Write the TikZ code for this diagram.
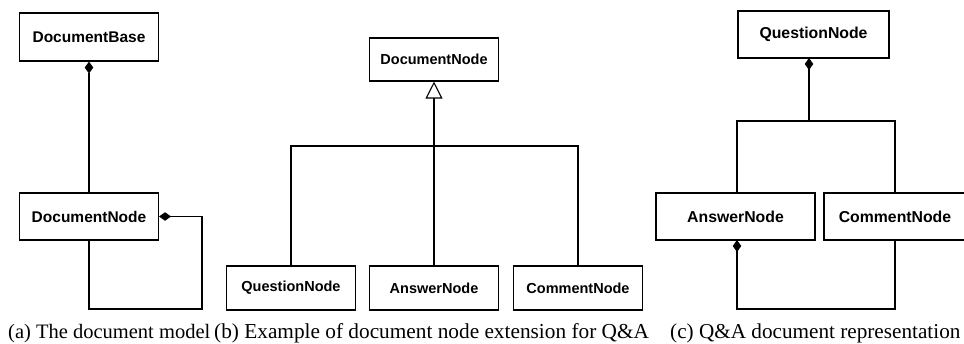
\documentclass[tikz,border=0pt]{standalone}
\usepackage{fontspec}
\setmainfont{Liberation Serif}
\newfontfamily\hv{Liberation Sans}
\usetikzlibrary{arrows.meta}
\tikzset{
  cls/.style={draw, line width=1.1pt, inner sep=0pt, font=\hv\bfseries},
  sza/.style={font=\hv\bfseries\fontsize{15.5}{18}\selectfont},
  szb/.style={font=\hv\bfseries\fontsize{14.5}{17}\selectfont},
  szc/.style={font=\hv\bfseries\fontsize{15.8}{18}\selectfont},
  conn/.style={line width=1.1pt},
  comp/.style={conn, {Diamond[length=12pt,width=8.5pt]}-},
  gen/.style={conn, -{Triangle[open,length=17pt,width=17pt,line width=1.1pt]}},
  captext/.style={anchor=base west, inner sep=0pt}
}
\begin{document}
\begin{tikzpicture}[x=1pt,y=-1pt]
\useasboundingbox (0,0) rectangle (964,343);
\clip (0,0) rectangle (964,343);
% (a)
\node[cls, sza, minimum width=139pt, minimum height=48pt] (DB) at (89,37) {DocumentBase};
\node[cls, sza, minimum width=139pt, minimum height=47pt] (DNa) at (89,216.5) {DocumentNode};
\coordinate (la) at (202,309);
\draw[comp] (DB.south) -- (DNa.north);
\draw[comp] (DNa.east) -| (la) -| (DNa.south);
% (b)
\node[cls, szb, minimum width=129pt, minimum height=43pt] (DNb) at (434,59.5) {DocumentNode};
\node[cls, szb, minimum width=129pt, minimum height=44pt] (Qb) at (291,288) {QuestionNode};
\node[cls, szb, minimum width=129pt, minimum height=44pt] (Ab) at (434,288) {AnswerNode};
\node[cls, szb, minimum width=129pt, minimum height=44pt] (Cb) at (578,288) {CommentNode};
\coordinate (barb) at (434,146);
\draw[gen] (Ab.north) -- (DNb.south);
\draw[conn] (Qb.north) -- (Qb.north |- barb) -- (Cb.north |- barb) -- (Cb.north);
% (c)
\node[cls, szc, minimum width=151pt, minimum height=47pt] (Qc) at (813.5,34.5) {QuestionNode};
\node[cls, szc, minimum width=159pt, minimum height=47pt] (Ac) at (735.5,216.5) {AnswerNode};
\node[cls, szc, minimum width=142pt, minimum height=47pt] (Cc) at (895,216.5) {CommentNode};
\coordinate (qd) at (809,58);
\coordinate (barc) at (809,121);
\coordinate (ad) at (737,240);
\coordinate (lc) at (737,309);
\draw[comp] (qd) -- (barc);
\draw[conn] (ad |- Ac.north) -- (ad |- barc) -- (Cc.north |- barc) -- (Cc.north);
\draw[comp] (ad) -- (lc) -| (Cc.south);
% captions
\node[captext, font=\fontsize{20.5}{23}\selectfont] (ca) at (8,338) {(a) The document model};
\node[captext, font=\fontsize{21.3}{24}\selectfont] (cb) at (214,338) {(b) Example of document node extension for Q\&A};
\node[captext, font=\fontsize{21.2}{24}\selectfont] (cc) at (670,338) {(c) Q\&A document representation};
\end{tikzpicture}
\end{document}
